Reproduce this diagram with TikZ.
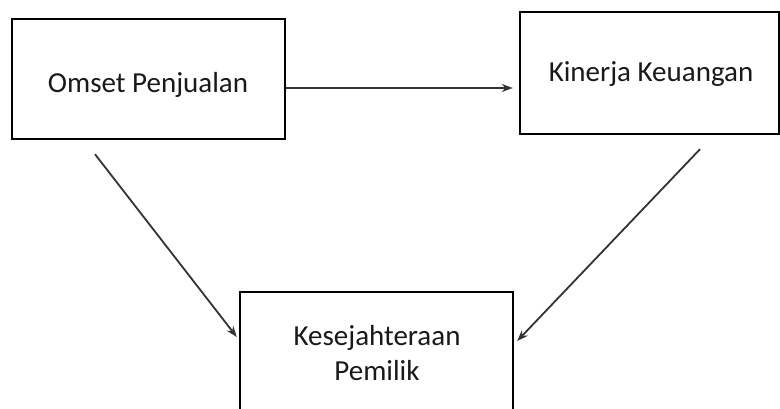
\documentclass[tikz,border=0pt]{standalone}
\usepackage{fontspec}
\setmainfont{Carlito}
\usetikzlibrary{arrows.meta}
\begin{document}
\begin{tikzpicture}[x=1pt,y=-1pt,
  box/.style={draw=black, line width=2.4pt, inner sep=0pt},
  lbl/.style={anchor=base, inner sep=0pt, font=\fontsize{29}{34}\selectfont, text=black!90},
  conn/.style={-{Stealth[length=11pt,width=8pt]}, line width=1.8pt, draw=black!80}]
\useasboundingbox (0,0) rectangle (780,408);
\node[box, minimum width=273pt, minimum height=120pt] (omset) at (148.5,79) {};
\node[box, minimum width=259pt, minimum height=122pt] (kinerja) at (649.5,73) {};
\node[box, minimum width=273pt, minimum height=120pt] (kesej) at (376.5,352) {};
\node[lbl] (tomset) at (148,92) {Omset Penjualan};
\node[lbl] (tkin) at (651,81) {Kinerja Keuangan};
\node[lbl] (tkes1) at (377,345) {Kesejahteraan};
\node[lbl] (tkes2) at (377,380) {Pemilik};
\draw[conn, line width=2.4pt] ([yshift=-9pt]omset.east) -- ([xshift=-6pt,yshift=-15pt]kinerja.west);
\draw[conn] ([xshift=-53.5pt,yshift=-14pt]omset.south) -- ([xshift=-2pt,yshift=15pt]kesej.west);
\draw[conn] ([xshift=50.5pt,yshift=-14pt]kinerja.south) -- ([xshift=3pt,yshift=11pt]kesej.east);
\end{tikzpicture}
\end{document}
